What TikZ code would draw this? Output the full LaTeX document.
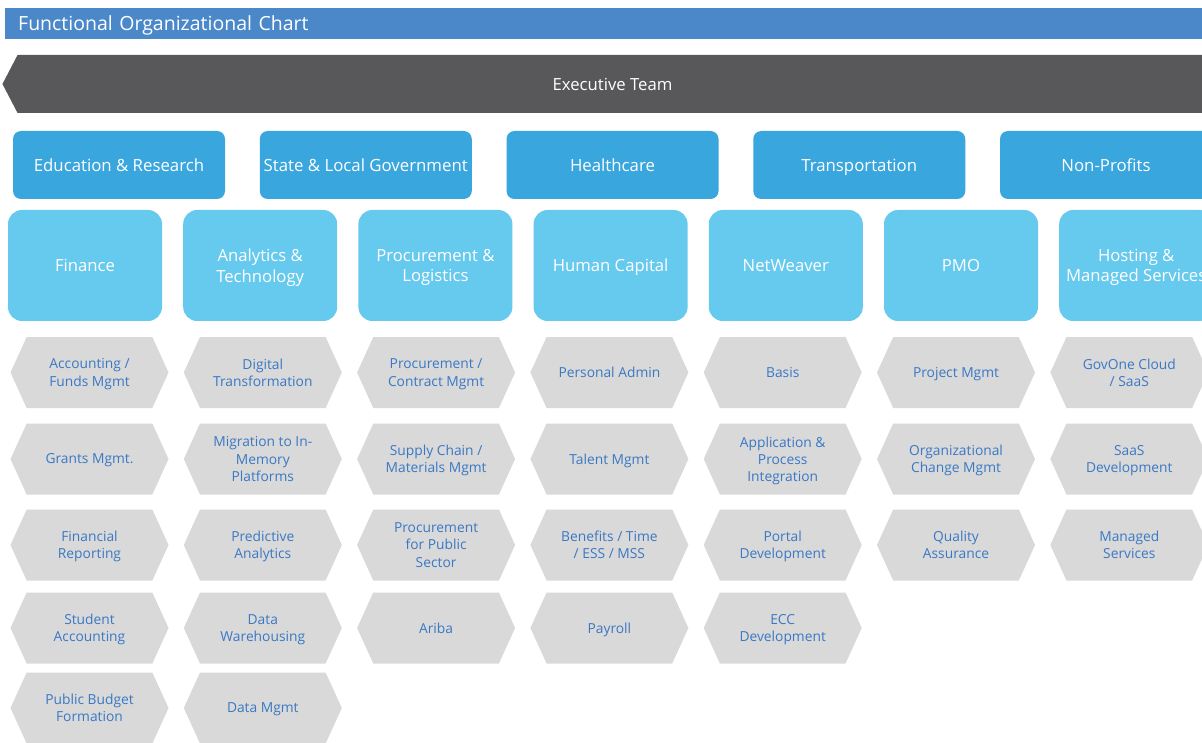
\documentclass[tikz,border=0pt]{standalone}
\usepackage{fontspec}
\setmainfont{Open Sans}
\usetikzlibrary{shapes.symbols}

\definecolor{barblue}{RGB}{74,136,202}
\definecolor{execgray}{RGB}{88,88,90}
\definecolor{indblue}{RGB}{58,166,222}
\definecolor{fnblue}{RGB}{102,201,238}
\definecolor{hexgray}{RGB}{217,217,217}
\definecolor{tasktext}{RGB}{58,120,196}

\tikzset{
  titlebar/.style={fill=barblue, text=white, minimum height=31, text width=1184, inner xsep=13pt, text depth=0pt, align=left, font=\fontsize{19.5}{22}\selectfont},
  exec/.style={signal, signal to=west, signal from=nowhere, signal pointer angle=125, fill=execgray, text=white, minimum width=1205, minimum height=58, inner sep=0pt, font=\fontsize{16.7}{19}\selectfont},
  industry/.style={fill=indblue, text=white, rounded corners=8pt, minimum width=212, minimum height=68, inner sep=0pt, text height=14pt, text depth=0pt, font=\fontsize{16.8}{19}\selectfont},
  func/.style={fill=fnblue, text=white, rounded corners=14pt, minimum width=154, minimum height=111, inner sep=0pt, text depth=0pt, align=center, font=\fontsize{16.7}{20.5}\selectfont},
  task/.style={signal, signal to=west and east, signal pointer angle=131, fill=hexgray, text=tasktext, minimum width=158, minimum height=71, inner sep=0pt, text depth=0pt, align=center, font=\fontsize{13.8}{17.2}\selectfont}
}

\begin{document}
\begin{tikzpicture}[x=1pt, y=-1pt]
    \useasboundingbox (0,0) rectangle (1202,743);
    \fill[white] (0,0) rectangle (1202,743);

    % header
    \node[titlebar, anchor=west] (title) at (5,23.5) {Functional Organizational Chart};
    \node[exec] (exec) at (612.5,84) {Executive Team};

    % industries
    \foreach \name [count=\i from 0] in {Education \& Research, State \& Local Government, Healthcare, Transportation, Non-Profits}
        \node[industry] (ind-\i) at ({119+246.75*\i},165) {\name};

    % functions
    \foreach \name [count=\i from 0] in {Finance, {Analytics \&\\Technology}, {Procurement \&\\Logistics}, Human Capital, NetWeaver, PMO, {Hosting \&\\Managed Services}}
        \node[func] (fn-\i) at ({85+175.2*\i},265.5) {\name};

    % services under each function
    \foreach \col/\tasks [count=\i from 0] in {
        fin/{{Accounting /\\Funds Mgmt}, {Grants Mgmt.}, {Financial\\Reporting}, {Student\\Accounting}, {Public Budget\\Formation}},
        ana/{{Digital\\Transformation}, {Migration to In-\\Memory\\Platforms}, {Predictive\\Analytics}, {Data\\Warehousing}, {Data Mgmt}},
        pro/{{Procurement /\\Contract Mgmt}, {Supply Chain /\\Materials Mgmt}, {Procurement\\for Public\\Sector}, {Ariba}},
        hum/{{Personal Admin}, {Talent Mgmt}, {Benefits / Time\\/ ESS / MSS}, {Payroll}},
        net/{{Basis}, {Application \&\\Process\\Integration}, {Portal\\Development}, {ECC\\Development}},
        pmo/{{Project Mgmt}, {Organizational\\Change Mgmt}, {Quality\\Assurance}},
        hos/{{GovOne Cloud\\/ SaaS}, {SaaS\\Development}, {Managed\\Services}}}
    {
        \foreach \txt [count=\r from 0] in \tasks {
            \pgfmathsetmacro{\ty}{{372.5,459,545,628,708}[\r]}
            \node[task] (\col-\r) at ({89.5+173.3*\i},\ty) {\txt};
        }
    }

\end{tikzpicture}
\end{document}
